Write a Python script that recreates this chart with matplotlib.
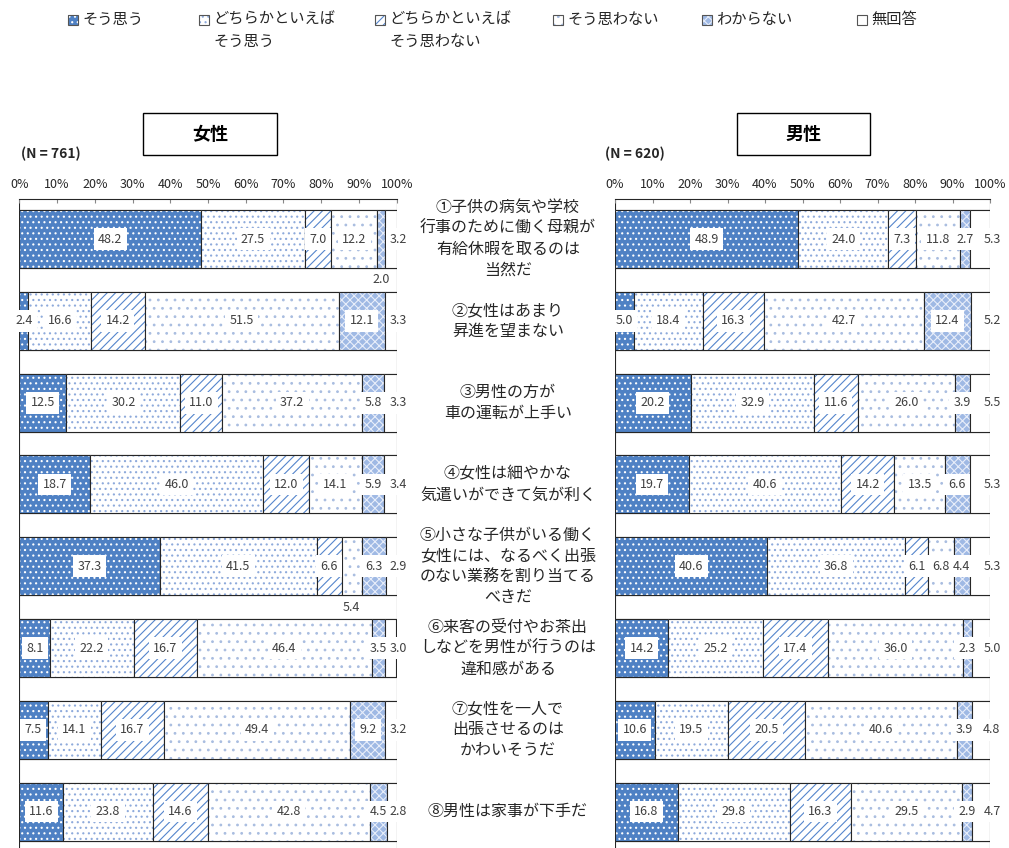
import numpy as np
import matplotlib
matplotlib.use("Agg")
import matplotlib.pyplot as plt
from matplotlib.patches import Rectangle
from matplotlib.transforms import blended_transform_factory

plt.rcParams["font.family"] = ["Noto Sans CJK JP", "DejaVu Sans"]
plt.rcParams["hatch.linewidth"] = 0.8

# data
categories = ["そう思う", "どちらかといえば\nそう思う", "どちらかといえば\nそう思わない",
              "そう思わない", "わからない", "無回答"]

questions = [
    "①子供の病気や学校\n行事のために働く母親が\n有給休暇を取るのは\n当然だ",
    "②女性はあまり\n昇進を望まない",
    "③男性の方が\n車の運転が上手い",
    "④女性は細やかな\n気遣いができて気が利く",
    "⑤小さな子供がいる働く\n女性には、なるべく出張\nのない業務を割り当てる\nべきだ",
    "⑥来客の受付やお茶出\nしなどを男性が行うのは\n違和感がある",
    "⑦女性を一人で\n出張させるのは\nかわいそうだ",
    "⑧男性は家事が下手だ",
]

female = [
    [48.2, 27.5, 7.0, 12.2, 2.0, 3.2],
    [2.4, 16.6, 14.2, 51.5, 12.1, 3.3],
    [12.5, 30.2, 11.0, 37.2, 5.8, 3.3],
    [18.7, 46.0, 12.0, 14.1, 5.9, 3.4],
    [37.3, 41.5, 6.6, 5.4, 6.3, 2.9],
    [8.1, 22.2, 16.7, 46.4, 3.5, 3.0],
    [7.5, 14.1, 16.7, 49.4, 9.2, 3.2],
    [11.6, 23.8, 14.6, 42.8, 4.5, 2.8],
]

male = [
    [48.9, 24.0, 7.3, 11.8, 2.7, 5.3],
    [5.0, 18.4, 16.3, 42.7, 12.4, 5.2],
    [20.2, 32.9, 11.6, 26.0, 3.9, 5.5],
    [19.7, 40.6, 14.2, 13.5, 6.6, 5.3],
    [40.6, 36.8, 6.1, 6.8, 4.4, 5.3],
    [14.2, 25.2, 17.4, 36.0, 2.3, 5.0],
    [10.6, 19.5, 20.5, 40.6, 3.9, 4.8],
    [16.8, 29.8, 16.3, 29.5, 2.9, 4.7],
]

panel_titles = ["女性", "男性"]
panel_n = [761, 620]
xticks = list(range(0, 101, 10))

# labels that sit in the blank row under the bar (question, category)
moved_female = {(0, 4), (4, 3)}
moved_male = set()

# face, hatch, hatch colour
styles = [
    ("#4f81c4", "...", "white"),
    ("white", "...", "#8eaadb"),
    ("white", "////", "#5585cc"),
    ("white", "..", "#a9bde0"),
    ("#9fb9e4", "xxxx", "#e8eefa"),
    ("white", "", "white"),
]

W, H = 1009, 848
fig = plt.figure(figsize=(W / 100, H / 100), dpi=100)

ax_l = fig.add_axes([19.3 / W, 0, 377.4 / W, 649 / H])
ax_r = fig.add_axes([615 / W, 0, 375 / W, 649 / H])

BAR_H = 0.71
GAP_H = 0.29
EDGE = "#262626"


def draw_panel(ax, values, moved):
    vals = np.array(values)
    left = np.cumsum(vals, axis=1) - vals
    ypos = np.arange(len(vals))

    # blank rows between questions
    ax.barh(np.arange(-1, len(vals)) + 0.5, 100, height=GAP_H,
            color="white", edgecolor=EDGE, lw=0.8)

    for j, (face, hatch, hc) in enumerate(styles):
        ax.barh(ypos, vals[:, j], left=left[:, j], height=BAR_H,
                color=face, hatch=hatch, edgecolor=hc, lw=0)
        ax.barh(ypos, vals[:, j], left=left[:, j], height=BAR_H,
                fill=False, edgecolor=EDGE, lw=0.8)

    for i in range(len(vals)):
        for j in range(vals.shape[1]):
            v = vals[i, j]
            x = left[i, j] + v / 2
            if j == len(styles) - 1:
                x = 100.5
            if (i, j) in moved:
                ax.text(x, ypos[i] + 0.5, f"{v:.1f}", ha="center", va="center",
                        fontsize=9, color="#404040")
            else:
                ax.text(x, ypos[i], f"{v:.1f}", ha="center", va="center",
                        fontsize=9, color="#404040",
                        bbox=dict(boxstyle="square,pad=0.35", fc="white", ec="none"))

    ax.set_xlim(0, 100)
    ax.set_ylim(len(vals) - 0.555, -0.49)
    ax.xaxis.tick_top()
    ax.set_xticks(xticks)
    ax.set_xticklabels([f"{t}%" for t in xticks], fontsize=9, color="#262626")
    ax.tick_params(axis="x", direction="in", length=3, pad=6, color="#888888")
    ax.set_yticks([])
    for s in ["left", "right", "bottom"]:
        ax.spines[s].set_visible(False)
    ax.spines["top"].set_color(EDGE)
    ax.spines["top"].set_linewidth(0.8)


draw_panel(ax_l, female, moved_female)
draw_panel(ax_r, male, moved_male)

# question texts in the middle
tr = blended_transform_factory(fig.transFigure, ax_l.transData)
for i, q in enumerate(questions):
    ax_l.text(508 / W, i, q, transform=tr, ha="center", va="center",
              fontsize=11.5, linespacing=1.3, color="#262626", clip_on=False)

# title boxes and N
for (x0, x1), title, n, nx in zip([(143, 277), (737, 870)], panel_titles,
                                  panel_n, [21, 605]):
    fig.add_artist(Rectangle((x0 / W, 1 - 155 / H), (x1 - x0) / W, 42 / H,
                             transform=fig.transFigure, fill=False,
                             ec="black", lw=1))
    fig.text((x0 + x1) / 2 / W, 1 - 134 / H, title, ha="center", va="center",
             fontsize=13, fontweight="bold")
    fig.text(nx / W, 1 - 154 / H, f"(N = {n})", ha="left", va="center",
             fontsize=10, fontweight="bold", color="#262626")

# legend
leg_x = [68, 199, 375, 553, 702, 857]
for x, cat, (face, hatch, hc) in zip(leg_x, categories, styles):
    fig.add_artist(Rectangle((x / W, 1 - 25 / H), 10 / W, 10 / H,
                             transform=fig.transFigure, facecolor=face,
                             hatch=hatch, edgecolor=hc, lw=0))
    fig.add_artist(Rectangle((x / W, 1 - 25 / H), 10 / W, 10 / H,
                             transform=fig.transFigure, fill=False,
                             edgecolor="#555555", lw=0.8))
    fig.text((x + 14) / W, 1 - 11 / H, cat, ha="left", va="top",
             fontsize=11, linespacing=1.4, color="#262626")

fig.savefig("out.png", dpi=100)
